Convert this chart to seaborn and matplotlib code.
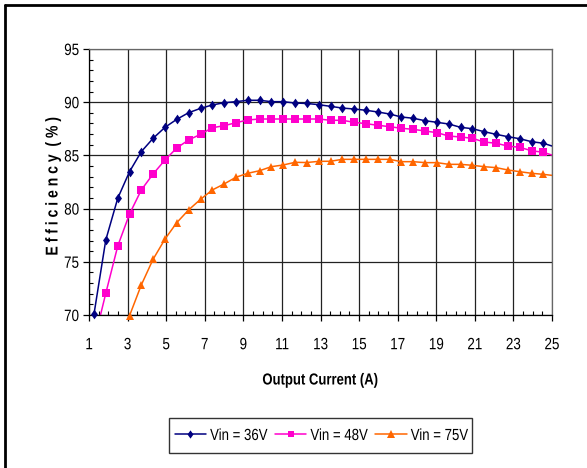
import numpy as np
import pandas as pd
import seaborn as sns
import matplotlib
matplotlib.use("Agg")
import matplotlib.pyplot as plt
from matplotlib.ticker import MultipleLocator
from matplotlib.lines import Line2D
from matplotlib.patches import Rectangle
from matplotlib.patheffects import AbstractPathEffect
from matplotlib.transforms import Affine2D

# ---- data ----
current = [1.26, 1.87, 2.49, 3.10, 3.71, 4.32, 4.94, 5.55, 6.16, 6.78,
           7.39, 8.00, 8.61, 9.23, 9.84, 10.45, 11.07, 11.68, 12.29, 12.90,
           13.52, 14.13, 14.74, 15.36, 15.97, 16.58, 17.19, 17.81, 18.42, 19.03,
           19.65, 20.26, 20.87, 21.48, 22.10, 22.71, 23.32, 23.94, 24.55, 25.16]
eff_36 = [70.1, 77.05, 80.97, 83.47, 85.35, 86.6, 87.64, 88.39, 89.01, 89.42,
          89.74, 89.95, 90.05, 90.18, 90.18, 90.05, 90.05, 89.92, 89.88, 89.77,
          89.61, 89.45, 89.36, 89.24, 89.08, 88.89, 88.61, 88.49, 88.26, 88.11,
          87.95, 87.64, 87.51, 87.23, 86.98, 86.76, 86.57, 86.29, 86.14, 85.79]
eff_48 = [67.5, 72.04, 76.48, 79.49, 81.75, 83.25, 84.57, 85.7, 86.45, 86.98,
          87.6, 87.79, 88.07, 88.33, 88.42, 88.42, 88.42, 88.42, 88.42, 88.42,
          88.30, 88.30, 88.11, 87.98, 87.83, 87.70, 87.55, 87.45, 87.29, 87.14,
          86.82, 86.73, 86.61, 86.26, 86.14, 85.88, 85.76, 85.44, 85.29, 84.94]
eff_75 = [61.0, 64.5, 67.5, 69.93, 72.82, 75.23, 77.14, 78.68, 79.87, 80.87,
          81.75, 82.31, 82.94, 83.32, 83.56, 83.94, 84.1, 84.35, 84.33, 84.44,
          84.45, 84.63, 84.63, 84.63, 84.63, 84.63, 84.41, 84.41, 84.32, 84.32,
          84.16, 84.16, 84.07, 83.94, 83.85, 83.63, 83.47, 83.32, 83.22, 83.09]
series_names = ["Vin = 36V", "Vin = 48V", "Vin = 75V"]
x_ticks = [1, 3, 5, 7, 9, 11, 13, 15, 17, 19, 21, 23, 25]
y_ticks = [70, 75, 80, 85, 90, 95]

df = pd.concat([
    pd.DataFrame({"I": current, "eff": vals, "Vin": name})
    for name, vals in zip(series_names, [eff_36, eff_48, eff_75])
], ignore_index=True)

SX = 0.82


class Condense(AbstractPathEffect):
    """Draw text horizontally condensed (imitates a 'Narrow' typeface)."""
    def __init__(self, sx=SX, anchor="center"):
        super().__init__()
        self.sx = sx
        self.anchor = anchor

    def draw_path(self, renderer, gc, tpath, affine, rgbFace=None):
        ext = tpath.get_extents()
        if self.anchor == "left":
            cx = ext.x0
        elif self.anchor == "right":
            cx = ext.x1
        else:
            cx = 0.5 * (ext.x0 + ext.x1)
        t = Affine2D().translate(-cx, 0).scale(self.sx, 1.0).translate(cx, 0) + affine
        renderer.draw_path(gc, tpath, t, rgbFace)


# ---- style ----
sns.set_theme(style="white")
FONT = ["Liberation Sans", "DejaVu Sans"]
plt.rcParams["font.family"] = FONT

palette = {"Vin = 36V": "#000080", "Vin = 48V": "#FF00CC", "Vin = 75V": "#FF6600"}
diamond = [(0, 1), (0.72, 0), (0, -1), (-0.72, 0)]
markers = {"Vin = 36V": diamond, "Vin = 48V": "s", "Vin = 75V": "^"}
msizes = {"Vin = 36V": 7.0, "Vin = 48V": 5.5, "Vin = 75V": 6.3}

fig = plt.figure(figsize=(5.87, 4.68), dpi=100, facecolor="white")
ax = fig.add_axes([89 / 587, 1 - 315 / 468, 463 / 587, 266 / 468])
ax.set_facecolor("white")

sns.lineplot(data=df, x="I", y="eff", hue="Vin", palette=palette,
             linewidth=1.1, ax=ax, legend=False, sort=False)

# markers drawn un-clipped (like Excel) for points inside the plotted range
inside = df[(df["eff"] >= 69.9) & (df["I"] <= 25)]
for name in series_names:
    sub = inside[inside["Vin"] == name]
    ax.plot(sub["I"], sub["eff"], linestyle="none", marker=markers[name],
            markersize=msizes[name], color=palette[name], markeredgewidth=0,
            clip_on=False, zorder=5)

ax.set_xlim(1, 25)
ax.set_ylim(70, 95)
ax.set_xticks(x_ticks)
ax.set_yticks(y_ticks)
ax.xaxis.set_minor_locator(MultipleLocator(0.5))
ax.yaxis.set_minor_locator(MultipleLocator(1))
ax.tick_params(which="major", direction="out", length=4, width=0.9, color="black",
               labelsize=11.8, labelcolor="black")
ax.tick_params(which="minor", direction="in", length=3, width=0.8, color="black")
ax.tick_params(axis="x", which="both", bottom=True)
ax.tick_params(axis="y", which="both", left=True)
ax.tick_params(axis="x", which="major", pad=12)
ax.tick_params(axis="y", which="major", pad=3)
for t in ax.get_xticklabels():
    t.set_path_effects([Condense(SX, "center")])
for t in ax.get_yticklabels():
    t.set_path_effects([Condense(SX, "right")])

ax.grid(True, which="major", color="#222222", linewidth=0.9)
ax.grid(False, which="minor")
ax.spines["left"].set_color("black")
ax.spines["bottom"].set_color("black")
ax.spines["top"].set_color("#666666")
ax.spines["right"].set_color("#666666")
for s in ax.spines.values():
    s.set_linewidth(0.9)

ax.set_xlabel("")
ax.set_ylabel("")
fig.text(320.5 / 587, 1 - 380 / 468, "Output Current (A)", ha="center", va="center",
         fontsize=11.5, fontweight="bold", color="black",
         path_effects=[Condense(SX, "center")])
fig.text(53 / 587, 1 - 186 / 468, "E f f i c i e n c y  ( % )", ha="center", va="center",
         rotation=90, fontsize=12.3, fontweight="bold", color="black",
         path_effects=[Condense(SX, "center")])

# legend (frame drawn separately so it fits the condensed text)
leg_handles = [Line2D([0], [0], color=palette[n], marker=markers[n], markersize=msizes[n] * 0.85,
                      markeredgewidth=0, linewidth=1.1) for n in series_names]
leg = fig.legend(leg_handles, series_names, loc="center left",
                 bbox_to_anchor=(169 / 587, 1 - 435.5 / 468),
                 ncol=3, frameon=False,
                 handlelength=1.95, handletextpad=0.25, columnspacing=-0.35,
                 borderpad=0.35, borderaxespad=0,
                 prop={"family": FONT, "size": 11.6})
for t in leg.get_texts():
    t.set_path_effects([Condense(SX, "left")])
    t.set_color("black")

fig.canvas.draw()
renderer = fig.canvas.get_renderer()
lb = leg.get_window_extent(renderer)
last_w = leg.get_texts()[-1].get_window_extent(renderer).width
x0 = lb.x0
x1 = lb.x1 - last_w * (1 - SX) - 2
yc = lb.y0 + lb.height / 2
h = 35
W, H = fig.bbox.width, fig.bbox.height
fig.add_artist(Rectangle((x0 / W, (yc - h / 2) / H), (x1 - x0) / W, h / H,
                         transform=fig.transFigure, facecolor="none",
                         edgecolor="#333333", linewidth=1.0, zorder=1))

# outer border (left and top)
fig.add_artist(Line2D([4.5 / 587, 4.5 / 587], [0, 1 - 4.5 / 468], transform=fig.transFigure,
                      color="black", linewidth=2.0))
fig.add_artist(Line2D([4.5 / 587, 1], [1 - 4.5 / 468, 1 - 4.5 / 468], transform=fig.transFigure,
                      color="black", linewidth=2.0))

fig.savefig("out.png", dpi=100, facecolor="white")
